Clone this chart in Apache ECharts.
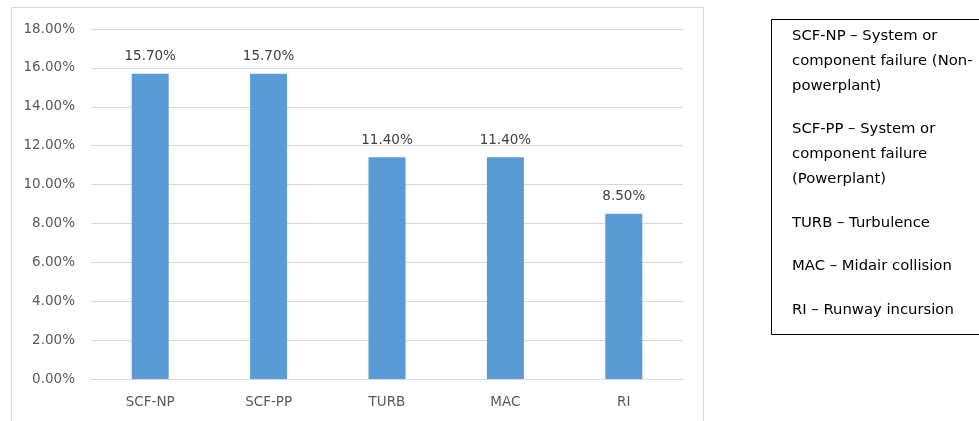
<!DOCTYPE html>
<html>
<head>
<meta charset="utf-8">
<script src="https://cdn.jsdelivr.net/npm/echarts@6/dist/echarts.min.js"></script>
<style>
html,body{margin:0;padding:0;background:#fff;}
#main{width:979px;height:421px;}
</style>
</head>
<body>
<div id="main"></div>
<script>
const categories = ['SCF-NP', 'SCF-PP', 'TURB', 'MAC', 'RI'];
const values = [15.7, 15.7, 11.4, 11.4, 8.5];
const legendLines = [
  ['SCF-NP – System or', 'component failure (Non-', 'powerplant)'],
  ['SCF-PP – System or', 'component failure', '(Powerplant)'],
  ['TURB – Turbulence'],
  ['MAC – Midair collision'],
  ['RI – Runway incursion']
];

const FONT = '"DejaVu Sans", "Noto Sans", sans-serif';
const chart = echarts.init(document.getElementById('main'));

const graphics = [
  { type: 'rect', shape: { x: 11.5, y: 7.5, width: 692, height: 430 }, style: { fill: 'none', stroke: '#d9d9d9', lineWidth: 1 }, z: -1 },
  { type: 'rect', shape: { x: 771.5, y: 19.5, width: 210, height: 315 }, style: { fill: '#fff', stroke: '#000', lineWidth: 1 } }
];
let y = 36;
legendLines.forEach((para) => {
  para.forEach((line, li) => {
    graphics.push({ type: 'text', x: 792, y: y,
      style: { text: line, font: '14.8px ' + FONT, fill: '#000', textVerticalAlign: 'middle', verticalAlign: 'middle' } });
    if (li < para.length - 1) y += 25;
  });
  y += 43.5;
});

chart.setOption({
  animation: false,
  textStyle: { fontFamily: FONT },
  grid: { left: 91, right: 296, top: 29, bottom: 42 },
  xAxis: {
    type: 'category',
    data: categories,
    axisLine: { lineStyle: { color: '#d9d9d9', width: 1 } },
    axisTick: { show: false },
    axisLabel: { color: '#595959', fontSize: 13.5, margin: 16, fontFamily: FONT }
  },
  yAxis: {
    type: 'value',
    min: 0, max: 18, interval: 2,
    axisLine: { show: false },
    axisTick: { show: false },
    splitLine: { lineStyle: { color: '#d9d9d9', width: 1 } },
    axisLabel: { color: '#595959', fontSize: 13.5, margin: 16, fontFamily: FONT,
      formatter: v => v.toFixed(2) + '%' }
  },
  series: [{
    type: 'bar',
    data: values,
    barWidth: 37,
    itemStyle: { color: '#5b9bd5' },
    label: { show: true, position: 'top', distance: 10, color: '#404040', fontSize: 13.5, fontFamily: FONT,
      formatter: p => p.value.toFixed(2) + '%' }
  }],
  graphic: graphics
});
</script>
</body>
</html>
